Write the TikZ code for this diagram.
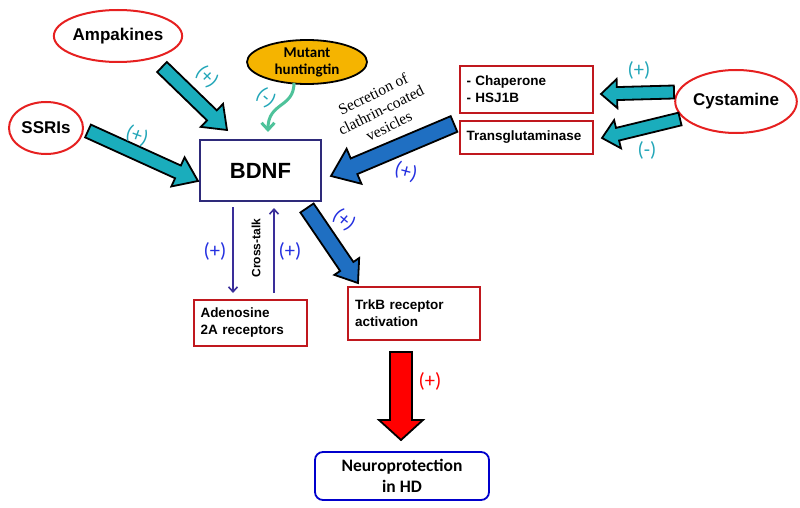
\documentclass[tikz,border=0pt]{standalone}
\usepackage{fontspec}
\setmainfont{Liberation Sans}
\newfontfamily\serifx{Liberation Serif}
\newfontfamily\calib{Carlito}
\usetikzlibrary{calc,arrows.meta,shapes.geometric}
\definecolor{ellred}{HTML}{E62020}
\definecolor{boxred}{HTML}{C0181E}
\definecolor{navyb}{HTML}{2E2A7A}
\definecolor{tealf}{HTML}{1AADBC}
\definecolor{teall}{HTML}{22A6B8}
\definecolor{bluef}{HTML}{1F6FC2}
\definecolor{bluel}{HTML}{2430E0}
\definecolor{purp}{HTML}{3A2E9A}
\definecolor{greenc}{HTML}{4EC29A}
\definecolor{orangef}{HTML}{F5B400}
\newcommand\blockarr[6]{%
  \coordinate (ba-m) at ($(#3)!#6!(#2)$);
  \draw[#1] ($(#2)!#4!90:(#3)$) -- ($(ba-m)!#4!90:(#3)$) -- ($(ba-m)!#5!90:(#3)$) -- (#3)
    -- ($(ba-m)!#5!-90:(#3)$) -- ($(ba-m)!#4!-90:(#3)$) -- ($(#2)!#4!-90:(#3)$) -- cycle;}
\begin{document}
\begin{tikzpicture}[x=1pt,y=-1pt,
  ell/.style={ellipse, draw=ellred, line width=2, fill=white, inner sep=0pt, font=\bfseries\fontsize{17}{20}\selectfont},
  rbox/.style={rectangle, draw=boxred, line width=1.8, fill=white, inner sep=0pt, align=left, font=\bfseries\fontsize{13.5}{17}\selectfont},
  tealarr/.style={fill=tealf, draw=black, line width=1.8, line join=miter},
  bluearr/.style={fill=bluef, draw=black, line width=1.8, line join=miter},
  redarr/.style={fill=red, draw=black, line width=1.8, line join=miter},
  lbl/.style={font=\calib\fontsize{20.5}{22}\selectfont, inner sep=0pt},
  thin/.style={draw=purp, line width=1.6, -{Straight Barb[length=5pt,width=9pt]}}
]
\useasboundingbox (0,0) rectangle (800,508);

% nodes
\node[ell, minimum width=128, minimum height=52] (amp) at (118,36) {Ampakines};
\node[ell, minimum width=74, minimum height=52] (ssri) at (46,128) {SSRIs};
\node[ellipse, draw=black, line width=1.8, fill=orangef, inner sep=0pt, minimum width=120, minimum height=44, align=center,
  font=\calib\bfseries\fontsize{15}{17}\selectfont] (mh) at (307,62) {Mutant\\huntingtin};
\node[rectangle, draw=navyb, line width=1.8, minimum width=121, minimum height=61, inner sep=0pt,
  font=\bfseries\fontsize{22}{26}\selectfont] (bdnf) at (260.5,170.5) {BDNF};
\node[rbox, minimum width=133, minimum height=47, text width=120] (chap) at (526.5,89.5) {- Chaperone\\- HSJ1B};
\node[rbox, minimum width=133, minimum height=33, text width=120] (tg) at (526.5,137.5) {Transglutaminase};
\node[ell, minimum width=112, minimum height=63] (cys) at (736,101.5) {Cystamine};
\node[rbox, minimum width=113, minimum height=46, text width=100] (ado) at (250.5,323) {Adenosine\\2A receptors};
\node[rbox, minimum width=132, minimum height=53, text width=118] (trkb) at (414,313.5) {TrkB receptor\\activation};
\node[rectangle, rounded corners=8, draw=blue!80!black, line width=1.8, minimum width=174, minimum height=48, inner sep=0pt,
  align=center, font=\calib\bfseries\fontsize{17.5}{21}\selectfont] (np) at (402,476) {Neuroprotection\\in HD};

% arrow end points
\coordinate (a1s) at (162,67);  \coordinate (a1e) at (227,130);
\coordinate (a2s) at (88,131);  \coordinate (a2e) at (198,181);
\coordinate (a3s) at (674,92);  \coordinate (a3e) at (601,94);
\coordinate (a4s) at (680,119); \coordinate (a4e) at (602,138);
\coordinate (a5s) at (454,124); \coordinate (a5e) at (331,176);
\coordinate (a6s) at (307,208); \coordinate (a6e) at (358,283);
\coordinate (a7s) at (401,352); \coordinate (a7e) at (401,440);

\blockarr{tealarr}{a1s}{a1e}{7pt}{16pt}{21pt}
\blockarr{tealarr}{a2s}{a2e}{7pt}{16pt}{22pt}
\blockarr{tealarr}{a3s}{a3e}{6.5pt}{14.5pt}{16pt}
\blockarr{tealarr}{a4s}{a4e}{6.5pt}{14.5pt}{16pt}
\blockarr{bluearr}{a5s}{a5e}{8.5pt}{19pt}{25pt}
\blockarr{bluearr}{a6s}{a6e}{8pt}{15pt}{20pt}
\blockarr{redarr}{a7s}{a7e}{11pt}{22pt}{20pt}

% mutant huntingtin curve
\coordinate (mhs) at (294,83);
\coordinate (mhe) at (268,132);
\draw[greenc, line width=3, -{Straight Barb[length=7pt,width=13pt]}] (mhs) .. controls (294,108) and (268,102) .. (mhe);

% adenosine cross-talk
\coordinate (d1s) at (233,207); \coordinate (d1e) at (233,293);
\coordinate (d2s) at (274,293); \coordinate (d2e) at (274,208);
\draw[thin] (d1s) -- (d1e);
\draw[thin] (d2s) -- (d2e);
\node[rotate=90, font=\bfseries\fontsize{12}{14}\selectfont] (ct) at (256,248) {Cross-talk};
\node[lbl, text=bluel] (l1) at (215,251) {(+)};
\node[lbl, text=bluel] (l2) at (290,251) {(+)};

% labels
\node[lbl, text=teall, rotate=-45] (t1) at (207,77) {(+)};
\node[lbl, text=teall, rotate=-20] (t2) at (137,136) {(+)};
\node[lbl, text=teall, rotate=-40] (t3) at (266,98) {(-)};
\node[lbl, text=teall] (t4) at (639,70) {(+)};
\node[lbl, text=teall] (t5) at (647,150) {(-)};
\node[lbl, text=bluel, rotate=-15] (b1) at (406,172) {(+)};
\node[lbl, text=bluel, rotate=-40] (b2) at (344,220) {(+)};
\node[lbl, text=red] (r1) at (430,381) {(+)};

\node[rotate=26, align=center, inner sep=0pt, font=\serifx\fontsize{15.5}{18}\selectfont] (sec) at (381,110)
  {Secretion of\\clathrin-coated\\vesicles};
\end{tikzpicture}
\end{document}
